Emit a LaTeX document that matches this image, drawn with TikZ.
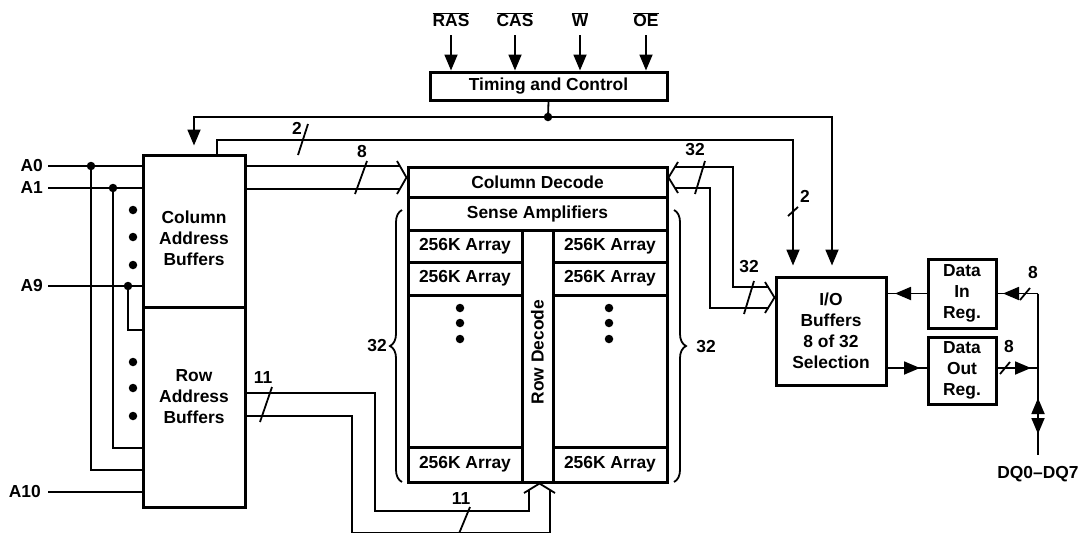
\documentclass[tikz,border=0pt]{standalone}
\usepackage{fontspec}
\setmainfont{Liberation Sans}
\usetikzlibrary{arrows.meta,decorations.pathreplacing}
\begin{document}
\begin{tikzpicture}[x=1pt,y=-1pt,
  font=\fontsize{17.4}{21}\selectfont\bfseries,
  box/.style={draw, line width=3pt, inner sep=0pt, align=center},
  thin/.style={line width=1.8pt},
  arr/.style={thin, -{Triangle[length=16pt,width=13pt]}},
  jdot/.style={circle, fill, inner sep=0pt, minimum size=8.5pt},
  edot/.style={circle, fill, inner sep=0pt, minimum size=8.5pt},
  lbl/.style={inner sep=0pt},
  brc/.style={thin, decorate, decoration={brace, amplitude=12pt}}]
\useasboundingbox (0,0) rectangle (1080,533);

% ---------- control inputs and timing ----------
\node[lbl] (ras) at (451,20) {$\overline{\hbox{\bfseries RAS}}$};
\node[lbl] (cas) at (515,20) {$\overline{\hbox{\bfseries CAS}}$};
\node[lbl] (wr)  at (580,20) {$\overline{\hbox{\bfseries W}}$};
\node[lbl] (oe)  at (646,20) {$\overline{\hbox{\bfseries OE}}$};
\node[box, minimum width=237pt, minimum height=28pt] (tc) at (548.5,86) {Timing and Control};
\foreach \s in {ras,cas,wr,oe}
  \draw[arr] (\s.south |- 0,35) -- (\s.south |- tc.north);

% ---------- address buffers ----------
\node[box, minimum width=102pt, minimum height=152pt] (cab) at (194,231) {};
\node[box, minimum width=102pt, minimum height=200pt] (rab) at (194,407) {};
\node[lbl, align=center] (cabt) at (194,238) {Column\\Address\\Buffers};
\node[lbl, align=center] (rabt) at (194,397) {Row\\Address\\Buffers};

% ---------- memory block ----------
\node[box, minimum width=259pt, minimum height=315pt] (mem) at (537.5,324.5) {};
\node[box, minimum width=259pt, minimum height=30pt] (cd) at (537.5,182) {Column Decode};
\node[box, minimum width=259pt, minimum height=33pt] (sa) at (537.5,213.5) {Sense Amplifiers};
\node[box, minimum width=114pt, minimum height=32pt] (la1) at (465,246) {256K Array};
\node[box, minimum width=114pt, minimum height=33pt] (la2) at (465,278.5) {256K Array};
\node[box, minimum width=114pt, minimum height=152pt] (lb) at (465,371) {};
\node[box, minimum width=114pt, minimum height=35pt] (la3) at (465,464.5) {256K Array};
\node[box, minimum width=114pt, minimum height=32pt] (ra1) at (610,246) {256K Array};
\node[box, minimum width=114pt, minimum height=33pt] (ra2) at (610,278.5) {256K Array};
\node[box, minimum width=114pt, minimum height=152pt] (rb) at (610,371) {};
\node[box, minimum width=114pt, minimum height=35pt] (ra3) at (610,464.5) {256K Array};
\node[box, minimum width=31pt, minimum height=252pt] (rd) at (537.5,356) {};
\node[lbl, rotate=90] (rdt) at (537.5,352) {Row Decode};
\foreach \y in {308,323,339} {
  \node[edot] at (460,\y) {};
  \node[edot] at (609,\y) {};
}
\draw[brc] (402,482) -- (402,210);
\draw[brc] (674,210) -- (674,482);
\node[lbl] (n32l) at (377,346) {32};
\node[lbl] (n32r) at (706,347) {32};

% ---------- I/O and data registers ----------
\node[box, minimum width=110pt, minimum height=108pt] (io) at (831,331) {I/O\\Buffers\\8 of 32\\Selection};
\node[box, minimum width=68pt, minimum height=69pt] (din) at (962,293.5) {Data\\In\\Reg.};
\node[box, minimum width=68pt, minimum height=67pt] (dout) at (962,370.5) {Data\\Out\\Reg.};

% ---------- address inputs ----------
\node[lbl, anchor=east] (a0) at (43,166) {A0};
\node[lbl, anchor=east] (a1) at (43,188) {A1};
\node[lbl, anchor=east] (a9) at (43,286) {A9};
\node[lbl, anchor=east] (a10) at (41,492) {A10};
\draw[thin] (48,166) -- (cab.west |- 0,166);
\draw[thin] (48,188) -- (cab.west |- 0,188);
\draw[thin] (48,286) -- (cab.west |- 0,286);
\draw[thin] (48,492) -- (rab.west |- 0,492);
\node[jdot] (j0) at (91,166) {};
\node[jdot] (j1) at (113,188) {};
\node[jdot] (j9) at (128,286) {};
\draw[thin] (j0.center) |- (rab.west |- 0,470);
\draw[thin] (j1.center) |- (rab.west |- 0,448);
\draw[thin] (j9.center) |- (rab.west |- 0,330);
\foreach \y in {210,237,265,362,388,416}
  \node[edot] at (133,\y) {};

% ---------- timing outputs ----------
\draw[thin] (tc.south) -- (548,117) coordinate (tj);
\node[jdot] at (tj) {};
\draw[arr, shorten >=8pt] (tj) -| (cab.north -| 194,0);
\draw[arr, shorten >=10pt] (tj) -| (io.north -| 832,0);
\draw[arr, shorten >=10pt] (cab.north -| 217,0) |- (793,140) -- (io.north -| 793,0);
\draw[thin] (298,155) -- (308,124);
\node[lbl] at (297,128) {2};
\draw[thin] (788,216) -- (798,207);
\node[lbl] at (805,196) {2};

% ---------- column address bus ----------
\draw[thin] (cab.east |- 0,166) -- (400,166);
\draw[thin] (cab.east |- 0,189) -- (400,189);
\draw[thin] (397,161) -- (mem.west |- 0,177.5) -- (397,194);
\draw[thin] (355,194) -- (367,161);
\node[lbl] at (362,152) {8};

% ---------- column decode <-> I/O bus ----------
\draw[thin] (675,167) -- (733,167) -- (733,287) -- (768.5,287);
\draw[thin] (675,188) -- (710,188) -- (710,308) -- (768.5,308);
\draw[thin] (678,162) -- (mem.east |- 0,177.5) -- (678,193);
\draw[thin] (765,282) -- (io.west |- 0,297.5) -- (765,313);
\draw[thin] (695,194) -- (705,161);
\node[lbl] at (695,150) {32};
\draw[thin] (744,314) -- (754,281);
\node[lbl] at (749,267) {32};

% ---------- row address bus ----------
\draw[thin] (rab.east |- 0,393) -- (375,393) -- (375,511) -- (529,511) -- (529,489.5);
\draw[thin] (rab.east |- 0,416) -- (352,416) -- (352,533) -- (550,533) -- (550,489.5);
\draw[thin] (524,493) -- (mem.south -| 539.5,0) -- (555,493);
\draw[thin] (260,422) -- (272,387);
\node[lbl] at (263,378) {11};
\draw[thin] (458,536) -- (470,507);
\node[lbl] at (461,499) {11};

% ---------- data path ----------
\draw[thin] (din.west) -- (io.east |- din.west);
\draw[arr] (din.west) -- (895,293.5);
\draw[thin] (io.east |- 0,368) -- (dout.west |- 0,368);
\draw[arr] (io.east |- 0,368) -- (920,368);
\coordinate (bt) at (1038,293.5);
\coordinate (bb) at (1038,455);
\draw[thin] (bt) -- (bb);
\draw[thin] (bt) -- (din.east);
\draw[arr] (bt) -- (1003,293.5);
\draw[thin] (dout.east |- 0,368) -- (1038,368);
\draw[arr] (dout.east |- 0,368) -- (1031,368);
\draw[arr] (1038,414) -- (1038,398);
\draw[arr] (1038,420) -- (1038,434);
\draw[thin] (1020,300) -- (1030,288);
\node[lbl] at (1033,273) {8};
\draw[thin] (1000,374) -- (1010,362);
\node[lbl] at (1009,347) {8};
\node[lbl] (dq) at (1038,474) {DQ0–DQ7};
\end{tikzpicture}
\end{document}
